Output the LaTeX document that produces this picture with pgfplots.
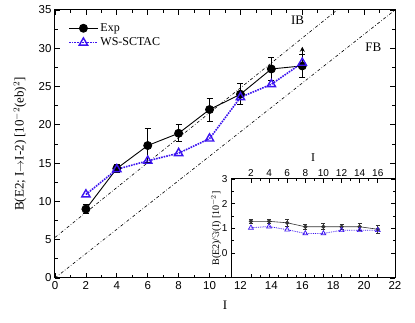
\documentclass[border=0pt]{standalone}
\usepackage{fontspec}
\setmainfont{Liberation Serif}
\newfontfamily\ticksf{Liberation Sans}
\usepackage{pgfplots}
\pgfplotsset{compat=1.18}
\usetikzlibrary{arrows.meta}
\definecolor{wsblue}{HTML}{3C14F0}

\begin{document}
\begin{tikzpicture}
\useasboundingbox (-55pt,-45pt) rectangle (360pt,278pt);
% main panel
\begin{axis}[
    scale only axis,
    width=340pt, height=268pt,
    at={(0,0)}, anchor=south west,
    xmin=0, xmax=22, ymin=0, ymax=35,
    xtick={0,2,...,22}, ytick={0,5,...,35},
    minor x tick num=1, minor y tick num=1,
    tick align=inside,
    major tick length=5pt, minor tick length=3pt,
    tick style={black, line width=0.8pt},
    axis line style={line width=1pt},
    /pgf/number format/assume math mode=true,
    ticklabel style={font=\ticksf\fontsize{11.5}{13}\selectfont},
    label style={font=\fontsize{13}{15}\selectfont},
    xlabel={I},
    ylabel={B(E2; I$\rightarrow$I-2) [10$^{-2}$(eb)$^{2}$]},
    xlabel style={at={(axis description cs:0.5,-0.1)}, anchor=center},
    ylabel style={at={(axis description cs:-0.103,0.5)}, anchor=center},
    legend style={draw=none, fill=none, at={(0.03,0.965)}, anchor=north west,
        font=\fontsize{12}{14}\selectfont, row sep=1pt},
    legend cell align=left,
    legend image code/.code={
        \draw[mark repeat=2, mark phase=2, #1] plot coordinates {(0cm,0cm) (0.5cm,0cm) (1cm,0cm)};
    },
]
% reference lines
\addplot[black, line width=0.6pt, dash dot, forget plot] coordinates {(0,5.3) (18.25,35)};
\addplot[black, line width=0.6pt, dash dot, forget plot] coordinates {(0,0) (22,35)};

\addplot[black, line width=0.9pt, mark=*, mark size=4pt,
    error bars/.cd, y dir=both, y explicit, error mark options={rotate=90, mark size=3pt, line width=0.9pt},
    error bar style={line width=0.9pt}]
  coordinates {
    (2,9.0) +- (0,0.6)
    (4,14.3) +- (0,0.5)
    (6,17.3) +- (0,2.2)
    (8,18.9) +- (0,1.1)
    (10,22.0) +- (0,1.5)
    (12,24.0) +- (0,1.35)
    (14,27.3) +- (0,1.45)
    (16,27.7) +- (0,1.5)
  };
\addplot[wsblue, line width=1.6pt, densely dotted, mark=triangle, mark size=4.8pt,
    mark options={solid, line width=1.4pt}]
  coordinates {
    (2,10.9) (4,14.2) (6,15.3) (8,16.3) (10,18.2) (12,23.6) (14,25.3) (16,28.1)
  };
\addplot[black, line width=0.9pt, quiver={u=0, v=2.5}, -{Stealth[length=5pt, width=5pt]}, forget plot]
  coordinates {(16,27.7)};
\legend{Exp, WS-SCTAC}
\node[font=\fontsize{13}{15}\selectfont] at (axis cs:15.7,33.6) {IB};
\node[font=\fontsize{13}{15}\selectfont] at (axis cs:20.6,30.1) {FB};
\end{axis}

% inset
\begin{axis}[
    scale only axis,
    width=164pt, height=99pt,
    at={(176pt,0pt)}, anchor=south west,
    axis background/.style={fill=white},
    xmin=-0.2, xmax=17.9, ymin=-1, ymax=3,
    xtick={2,4,...,16}, ytick={0,1,2,3},
    minor x tick num=1, minor y tick num=1,
    xticklabel pos=right,
    tick align=inside,
    major tick length=4pt, minor tick length=2.5pt,
    tick style={black, line width=0.8pt},
    axis line style={line width=1pt},
    /pgf/number format/assume math mode=true,
    ticklabel style={font=\ticksf\fontsize{10}{12}\selectfont},
    xticklabel style={yshift=-1pt},
    xlabel={I},
    xlabel style={font=\fontsize{12}{14}\selectfont, at={(axis description cs:0.5,1.22)}, anchor=center},
    ylabel={B(E2)/$\Im$(I) [10$^{-2}$]},
    ylabel style={font=\fontsize{10}{12}\selectfont, at={(axis description cs:-0.09,0.5)}, anchor=center},
]
\addplot[black!80, line width=0.6pt, mark=*, mark size=1.8pt,
    error bars/.cd, y dir=both, y explicit, error mark options={rotate=90, mark size=2pt, line width=0.6pt},
    error bar style={line width=0.6pt}]
  coordinates {
    (2,1.29) +- (0,0.1)
    (4,1.29) +- (0,0.09)
    (6,1.23) +- (0,0.13)
    (8,1.07) +- (0,0.1)
    (10,1.07) +- (0,0.12)
    (12,1.07) +- (0,0.1)
    (14,1.07) +- (0,0.15)
    (16,0.97) +- (0,0.15)
  };
\addplot[wsblue, line width=0.8pt, densely dotted, mark=triangle, mark size=2.8pt,
    mark options={solid, line width=0.7pt}]
  coordinates {
    (2,1.03) (4,1.08) (6,0.95) (8,0.8) (10,0.8) (12,0.93) (14,0.93) (16,0.93)
  };
\end{axis}
\end{tikzpicture}
\end{document}
